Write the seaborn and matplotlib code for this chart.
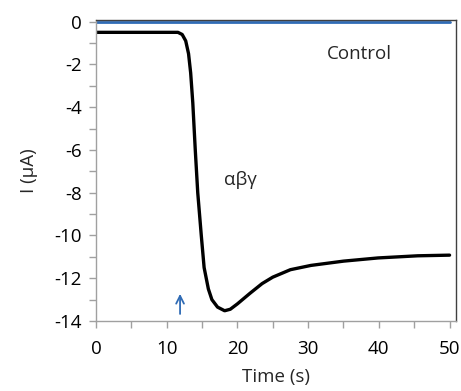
import matplotlib
matplotlib.use("Agg")
import matplotlib.pyplot as plt
import seaborn as sns
import pandas as pd

# control trace (flat at zero)
control_t = [0, 50]
control_i = [0, 0]

# alpha-beta-gamma trace
abg_t = [0, 5, 10, 11.6, 12.2, 12.7, 13.1, 13.4, 13.7, 14.05, 14.4, 14.9, 15.3,
         15.9, 16.4, 17.2, 18.2, 19.0, 20.0, 21.8, 23.5, 25.0, 27.5, 30.4,
         35.0, 39.9, 45.5, 50]
abg_i = [-0.5, -0.5, -0.5, -0.5, -0.6, -0.9, -1.5, -2.4, -3.8, -6.0, -8.0, -10.0,
         -11.5, -12.5, -13.0, -13.35, -13.52, -13.45, -13.2, -12.7, -12.25,
         -11.95, -11.6, -11.4, -11.2, -11.05, -10.95, -10.92]

x_ticks = [0, 10, 20, 30, 40, 50]
y_ticks = [0, -2, -4, -6, -8, -10, -12, -14]

sns.set_style("white")
plt.rcParams['font.family'] = ['Open Sans', 'DejaVu Sans']
plt.rcParams['axes.unicode_minus'] = False

fig = plt.figure(figsize=(4.61, 3.91), dpi=100)
ax = fig.add_axes([0.208, 0.179, 0.781, 0.77])

ctrl = pd.DataFrame({"t": control_t, "i": control_i})
abg = pd.DataFrame({"t": abg_t, "i": abg_i})
sns.lineplot(data=abg, x="t", y="i", color="black", lw=2.4, ax=ax, sort=False)
sns.lineplot(data=ctrl, x="t", y="i", color="#2f6bb5", lw=2.0, ax=ax)

ax.set_xlim(0, 50.9)
ax.set_ylim(-14, 0.08)
ax.set_xticks(x_ticks)
ax.set_yticks(y_ticks)
ax.set_xticks(range(0, 51, 5), minor=True)
ax.set_yticks(range(-14, 1, 1), minor=True)
ax.tick_params(axis="both", which="both", direction="out", length=5, width=1,
               labelsize=13.5, colors="black")
ax.tick_params(axis="both", which="both", color="#a0a0a0")
ax.tick_params(axis="x", which="both", bottom=True, pad=9)
ax.tick_params(axis="y", which="both", left=True, pad=5)

for side in ["left", "bottom"]:
    ax.spines[side].set_color("#a0a0a0")
    ax.spines[side].set_linewidth(1)
for side in ["top", "right"]:
    ax.spines[side].set_color("#404040")
    ax.spines[side].set_linewidth(1)

ax.set_xlabel("Time (s)", fontsize=13.5, labelpad=7)
ax.set_ylabel("I (\u03bcA)", fontsize=13.5, labelpad=12)

ax.text(37.3, -1.5, "Control", fontsize=13.5, ha="center", va="center")
ax.text(20.4, -7.4, "\u03b1\u03b2\u03b3", fontsize=13.5, ha="center", va="center")

ax.annotate("", xy=(11.9, -12.6), xytext=(11.9, -13.8),
            arrowprops=dict(arrowstyle="->", color="#2f6bb5", lw=1.3,
                            mutation_scale=14))

fig.savefig("out.png", dpi=100)
